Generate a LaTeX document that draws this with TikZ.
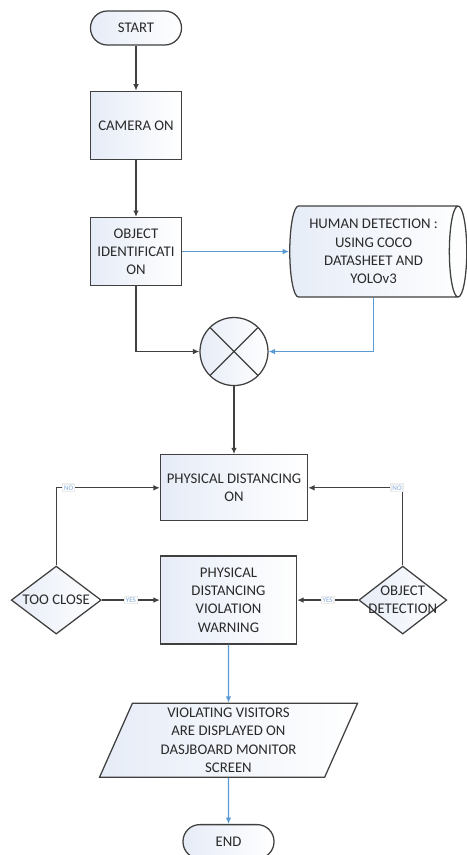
\documentclass[tikz,border=0pt]{standalone}
\usepackage{fontspec}
\setmainfont{Carlito}
\usetikzlibrary{arrows.meta,positioning,shapes.geometric,calc}
\definecolor{flowline}{HTML}{404040}
\definecolor{flowblue}{HTML}{5B9BD5}
\definecolor{flowfill}{HTML}{E6ECF7}
\definecolor{flowtext}{HTML}{2A2A2A}
\definecolor{flowlabel}{HTML}{7FA7D8}

\begin{document}
\begin{tikzpicture}[
        node distance=1.1cm,
        base/.style={
          draw=flowline,
          line width=0.9pt,
          left color=flowfill,
          right color=white,
          text=flowtext,
          font=\fontsize{10.5}{13}\selectfont,
          align=center,
          inner sep=2pt
        },
        terminal/.style={base, rounded corners=0.42cm, minimum width=2.275cm, minimum height=0.85cm},
        process/.style={base, rectangle, minimum width=2.275cm, minimum height=1.7cm},
        storage/.style={base, cylinder, shape aspect=0.27, minimum width=2.275cm, minimum height=4.425cm, inner sep=0pt},
        junction/.style={
          base,
          circle,
          minimum size=1.7cm,
          inner sep=0pt,
          path picture={
            \draw[flowline, line width=0.9pt]
              (path picture bounding box.north west) -- (path picture bounding box.south east)
              (path picture bounding box.south west) -- (path picture bounding box.north east);
          }
        },
        decision/.style={base, diamond, minimum width=2.25cm, minimum height=1.7cm, inner sep=0pt},
        dectext/.style={text=flowtext, font=\fontsize{10.5}{13}\selectfont, align=center},
        io/.style={
          base,
          trapezium,
          trapezium left angle=63,
          trapezium right angle=117,
          trapezium stretches body=true,
          minimum width=6.45cm,
          minimum height=1.85cm,
          inner sep=0pt
        },
        answer/.style={fill=white, draw=gray!15, text=flowlabel, font=\fontsize{5}{6}\selectfont, inner sep=1pt},
        arrow/.style={
          -{Latex[length=1.6mm, width=1.4mm]},
          line width=0.9pt,
          flowline
        },
        bluearrow/.style={arrow, flowblue}
      ]

      \useasboundingbox (0,0) rectangle (11.675,-21.375);

      \node[terminal] (start) at (3.4,-0.7) {START};
      \node[process, below=1.125cm of start] (camera) {CAMERA ON};
      \node[process, below=1.425cm of camera] (objid) {OBJECT\\IDENTIFICATI\\ON};
      \node[storage, right=2.675cm of objid] (human) {HUMAN DETECTION :\\USING COCO\\DATASHEET AND\\YOLOv3};
      \node[junction] (mix) at ($(objid)+(2.45,-2.5)$) {};
      \node[process, minimum width=3.675cm, minimum height=1.65cm, below=1.7cm of mix] (pdon) {PHYSICAL DISTANCING\\ON};
      \node[process, minimum width=3.4cm, minimum height=2.2cm, below=0.85cm of pdon.south west, anchor=north west] (warning) {PHYSICAL\\DISTANCING\\VIOLATION\\WARNING};
      \node[decision, left=1.45cm of warning, label={[dectext]center:TOO CLOSE}] (tooclose) {};
      \node[decision, minimum width=2.2cm, right=1.525cm of warning, label={[dectext]center:OBJECT\\DETECTION}] (objdet) {};
      \node[io, below=1.45cm of warning] (display) {VIOLATING VISITORS\\ARE DISPLAYED ON\\DASJBOARD MONITOR\\SCREEN};
      \node[terminal, below=1.15cm of display] (end) {END};

      \draw[arrow] (start) -- (camera);
      \draw[arrow] (camera) -- (objid);
      \draw[bluearrow] (objid) -- (human);
      \draw[arrow] (objid.south) |- (mix.west);
      \draw[bluearrow] (human.south) |- (mix.east);
      \draw[arrow] (mix) -- (pdon);
      \draw[arrow] (tooclose.north) |- node[answer, pos=0.56] (nofar) {NO} (pdon.west);
      \draw[arrow] (objdet.north) |- node[answer, pos=0.53] (nonear) {NO} (pdon.east);
      \draw[arrow] (tooclose) -- node[answer] (yesfar) {YES} (warning);
      \draw[arrow] (objdet) -- node[answer] (yesnear) {YES} (warning);
      \draw[bluearrow] (warning) -- (display);
      \draw[bluearrow] (display) -- (end);

      \end{tikzpicture}
\end{document}
